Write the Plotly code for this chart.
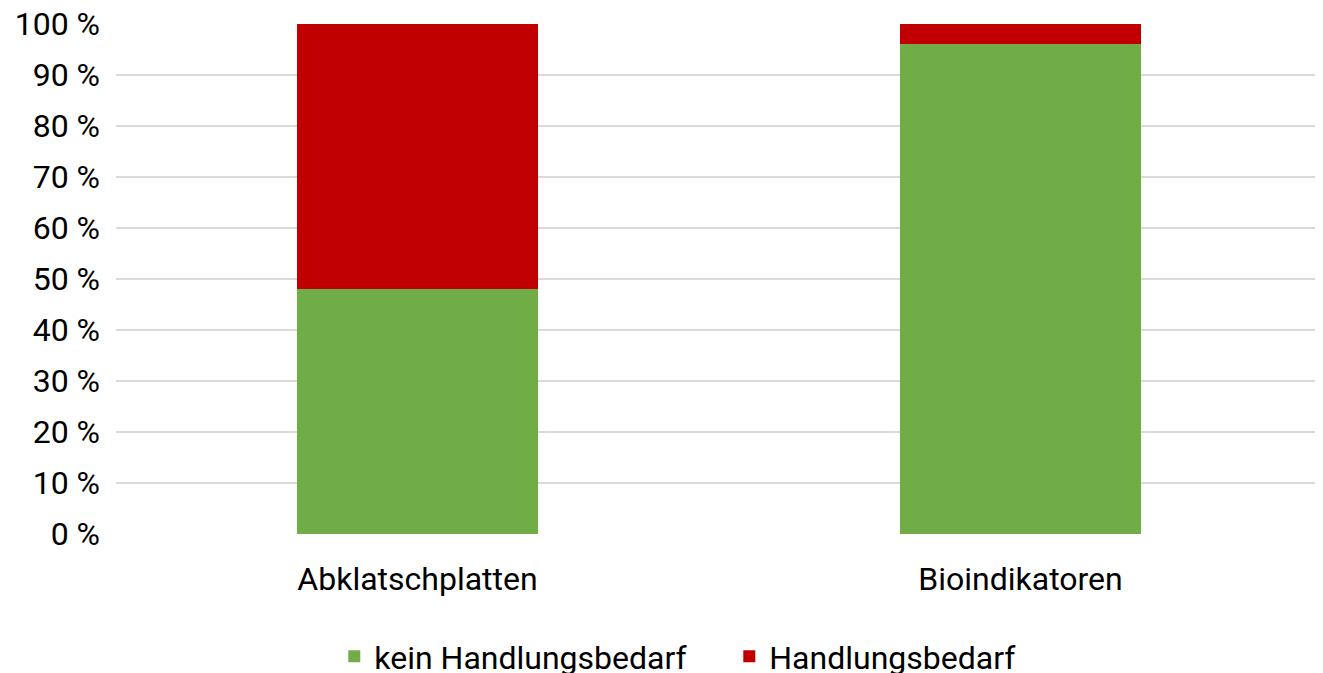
import plotly.graph_objects as go

categories = ["Abklatschplatten", "Bioindikatoren"]
kein_handlungsbedarf = [48, 96]
handlungsbedarf = [52, 4]
tick_values = [0, 10, 20, 30, 40, 50, 60, 70, 80, 90, 100]
tick_labels = ["0 %", "10 %", "20 %", "30 %", "40 %", "50 %", "60 %", "70 %", "80 %", "90 %", "100 %"]

fig = go.Figure()
fig.add_trace(go.Bar(x=categories, y=kein_handlungsbedarf, name="kein Handlungsbedarf",
                     marker=dict(color="#70ad47", line=dict(width=0))))
fig.add_trace(go.Bar(x=categories, y=handlungsbedarf, name="Handlungsbedarf",
                     marker=dict(color="#c00000", line=dict(width=0))))

fig.update_layout(
    barmode="stack",
    bargap=0.6,
    width=1315, height=665,
    margin=dict(l=108, r=1, t=16, b=139, autoexpand=False),
    paper_bgcolor="white", plot_bgcolor="white",
    font=dict(family="Roboto", size=32, color="#000000"),
    legend=dict(orientation="h", x=0.181, xanchor="left", y=-0.24, yanchor="middle",
                font=dict(size=32), traceorder="normal", itemwidth=30,
                entrywidth=350),
    showlegend=True,
)
fig.update_yaxes(range=[0, 100], tickvals=tick_values, ticktext=tick_labels,
                 showgrid=True, gridcolor="#d9d9d9", gridwidth=2, automargin=False,
                 zeroline=False, showline=False, ticks="", ticklabelstandoff=15,
                 ticklabeloverflow="allow")
fig.update_xaxes(showline=False, ticks="", ticklabelstandoff=23, automargin=False,
                 ticklabeloverflow="allow")

fig.write_html("out.html")
